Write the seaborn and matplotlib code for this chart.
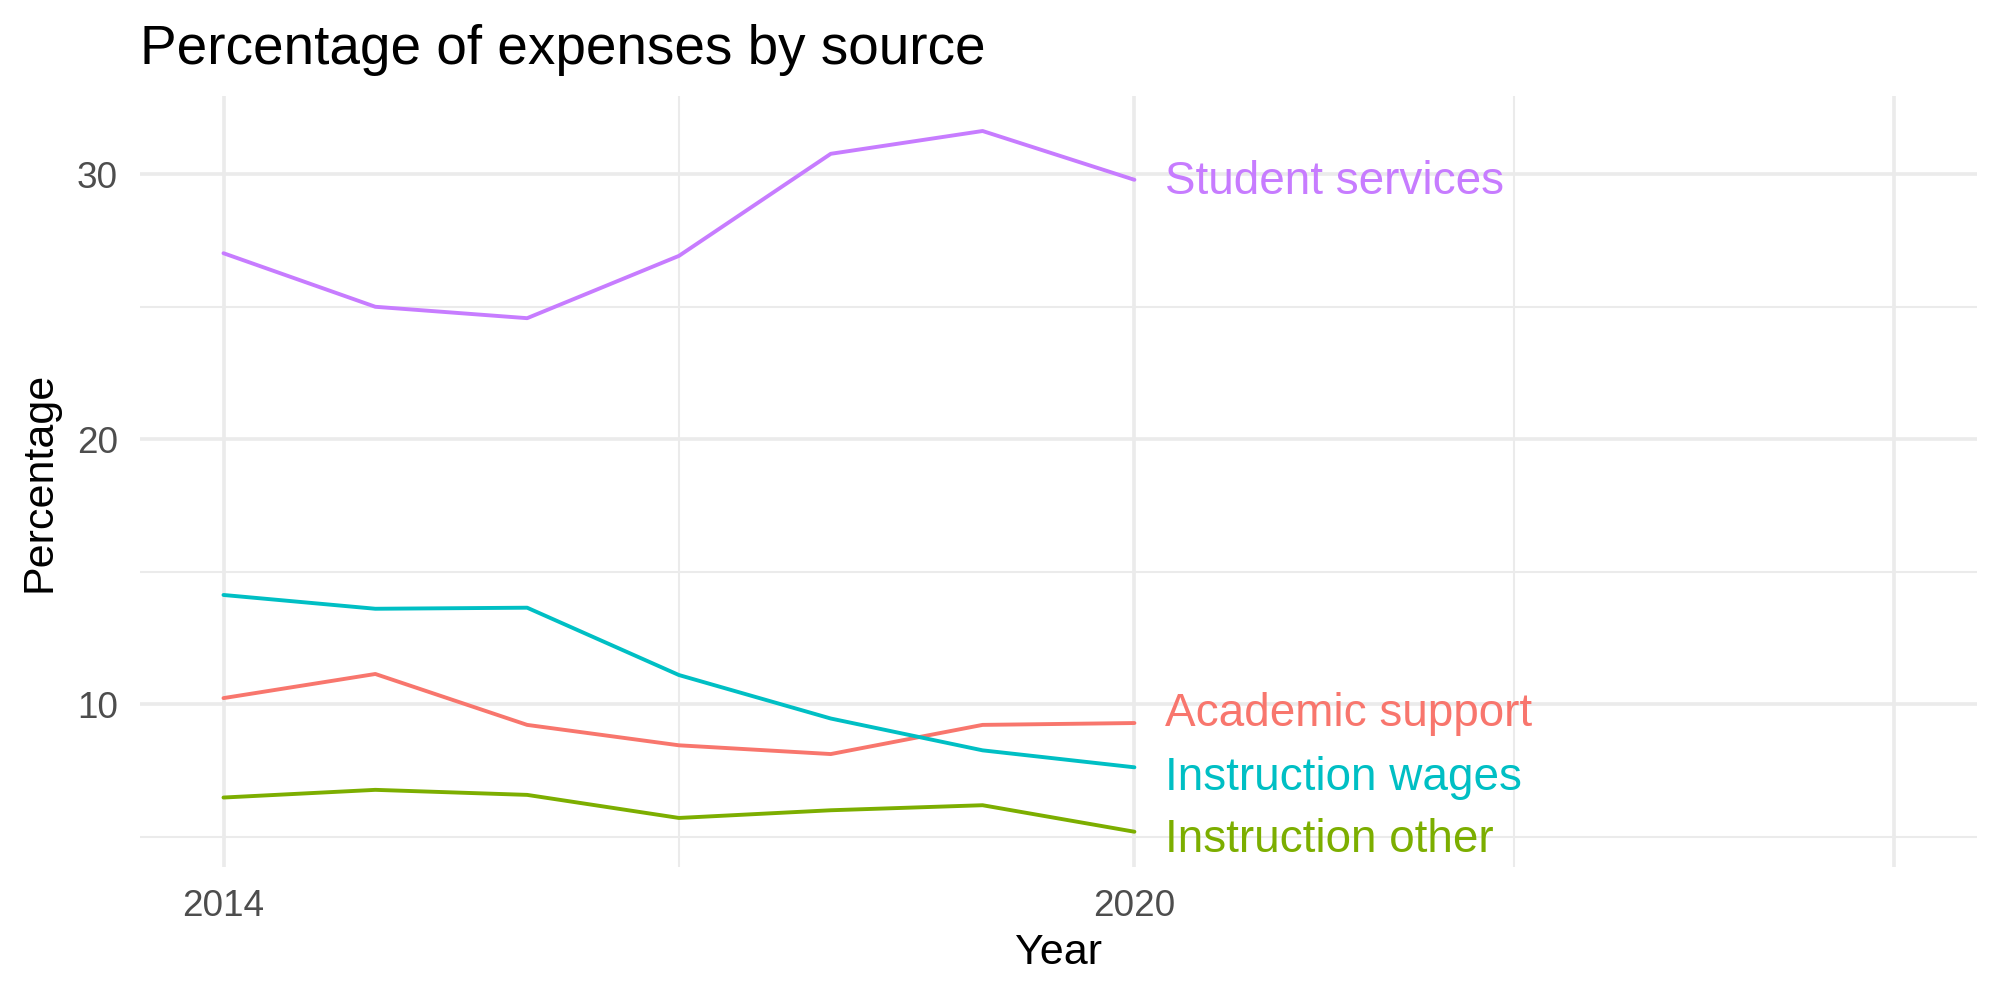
import seaborn as sns
from matplotlib import pyplot as plt
import pandas as pd

# 数据
years = [2014, 2015, 2016, 2017, 2018, 2019, 2020]
academic_support = [10.24, 11.15, 9.23, 8.46, 8.13, 9.23, 9.30]
instruction_other = [6.49, 6.78, 6.59, 5.72, 6.01, 6.20, 5.20]
instruction_wages = [14.13, 13.61, 13.65, 11.11, 9.47, 8.27, 7.63]
student_services = [27.02, 25.00, 24.57, 26.92, 30.77, 31.63, 29.79]

sources = ['Academic support', 'Instruction other', 'Instruction wages', 'Student services']
colors = ['#F8766D', '#7CAE00', '#00BFC4', '#C77CFF']
# 标签位置（略微错开）
label_y = [9.79, 5.06, 7.38, 29.86]

df = pd.DataFrame({
    'Year': years * 4,
    'Percentage': academic_support + instruction_other + instruction_wages + student_services,
    'Source': [s for s in sources for _ in years],
})

sns.set_theme(style='white')
plt.rcParams['font.family'] = ['Liberation Sans', 'DejaVu Sans']

fig = plt.figure(figsize=(20, 10), dpi=100)
ax = fig.add_axes([0.07, 0.133, 0.9185, 0.771])

sns.lineplot(data=df, x='Year', y='Percentage', hue='Source', hue_order=sources,
             palette=colors, linewidth=2.8, legend=False, ax=ax)

for name, y, c in zip(sources, label_y, colors):
    ax.annotate(name, xy=(2020.2, y), xytext=(0, -11.8), textcoords='offset points',
                va='baseline', ha='left', fontsize=33, color=c)

ax.set_xlim(2013.45, 2025.55)
ax.set_ylim(3.87, 32.95)
ax.set_xticks([2014, 2020, 2025])
ax.set_xticklabels(['2014', '2020', ''])
ax.set_xticks([2017, 2022.5], minor=True)
ax.set_yticks([10, 20, 30])
ax.set_yticks([5, 15, 25], minor=True)

ax.set_axisbelow(True)
ax.grid(which='major', color='#EBEBEB', linewidth=2.6)
ax.grid(which='minor', color='#EBEBEB', linewidth=1.5)
for s in ax.spines.values():
    s.set_visible(False)
ax.tick_params(which='both', length=0)
ax.tick_params(axis='y', labelsize=26.6, labelcolor='#4D4D4D', pad=16)
ax.tick_params(axis='x', labelsize=26.6, labelcolor='#4D4D4D', pad=16)

ax.set_xlabel('Year', fontsize=31, color='black', labelpad=6.5)
ax.set_ylabel('Percentage', fontsize=31, color='black', labelpad=12)

fig.text(0.07, 1 - 0.064, 'Percentage of expenses by source', fontsize=39.5,
         ha='left', va='baseline', color='black')

fig.savefig('out.png', dpi=100)
